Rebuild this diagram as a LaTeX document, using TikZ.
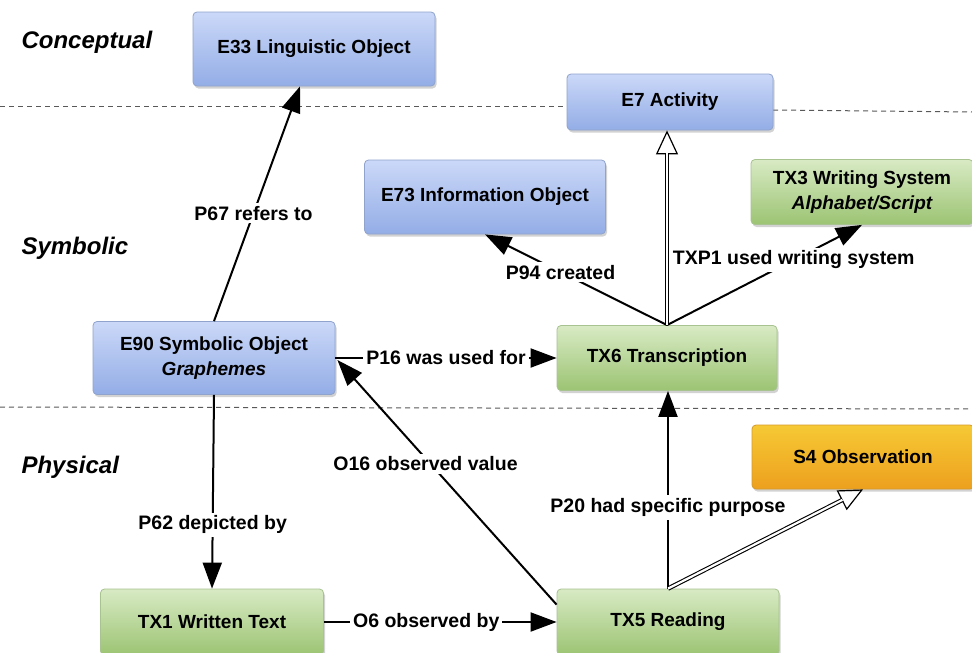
\documentclass[tikz,border=0pt]{standalone}
\usepackage{fontspec}
\setmainfont{Liberation Sans}
\usetikzlibrary{arrows.meta,shadows,calc}
\definecolor{bluetop}{HTML}{CBD8F8}
\definecolor{bluebot}{HTML}{93ADE6}
\definecolor{blueln}{HTML}{8FA3CC}
\definecolor{greentop}{HTML}{D8EAC4}
\definecolor{greenbot}{HTML}{9CC473}
\definecolor{greenln}{HTML}{A8C290}
\definecolor{orangetop}{HTML}{F6C935}
\definecolor{orangebot}{HTML}{EDA01E}
\definecolor{orangeln}{HTML}{D59A2A}
\tikzset{
  box/.style={rounded corners=4pt, line width=0.8pt, align=center,
    font=\fontsize{19}{25}\selectfont\bfseries,
    drop shadow={opacity=0.35, shadow xshift=1.5pt, shadow yshift=-2.5pt}},
  bluebox/.style={box, draw=blueln, top color=bluetop, bottom color=bluebot},
  greenbox/.style={box, draw=greenln, top color=greentop, bottom color=greenbot},
  orangebox/.style={box, draw=orangeln, top color=orangetop, bottom color=orangebot},
  rel/.style={line width=2pt, -{Triangle[length=26pt,width=19pt]}},
  lbl/.style={fill=white, inner sep=3pt, font=\fontsize{19.5}{22}\selectfont\bfseries},
  layer/.style={font=\fontsize{24}{28}\selectfont\bfseries\itshape, anchor=west},
  sep/.style={line width=1pt, black!65, dash pattern=on 5pt off 4pt},
  isaopen/.style={line width=1.2pt, -{Triangle[open,length=24pt,width=22pt]}},
  isadouble/.style={double, double distance=2.2pt, line width=1.1pt, shorten >=23pt}
}
\begin{document}
\begin{tikzpicture}[x=1pt,y=-1pt]
\useasboundingbox (0,0) rectangle (972,653);
\fill[white] (0,0) rectangle (972,653);

% separators
\draw[sep] (0,106) -- (567,106);
\draw[sep] (773,110) -- (972,112);
\draw[sep] (0,407) -- (972,409);

% layer names
\node[layer] (lc) at (18,42) {Conceptual};
\node[layer] (ls) at (18,248) {Symbolic};
\node[layer] (lp) at (18,467) {Physical};

% nodes
\node[bluebox, minimum width=242pt, minimum height=74pt] (e33) at (314,49) {E33 Linguistic Object};
\node[bluebox, minimum width=206pt, minimum height=56pt] (e7) at (670,102) {E7 Activity};
\node[bluebox, minimum width=241pt, minimum height=74pt] (e73) at (485,197) {E73 Information Object};
\node[greenbox, minimum width=222pt, minimum height=65pt] (tx3) at (862,192) {TX3 Writing System\\\itshape Alphabet/Script};
\node[bluebox, minimum width=242pt, minimum height=73pt] (e90) at (214,358) {E90 Symbolic Object\\\itshape Graphemes};
\node[greenbox, minimum width=220pt, minimum height=65pt] (tx6) at (667,358) {TX6 Transcription};
\node[orangebox, minimum width=222pt, minimum height=64pt] (s4) at (863,457) {S4 Observation};
\node[greenbox, minimum width=223pt, minimum height=66pt] (tx1) at (212,622) {TX1 Written Text};
\node[greenbox, minimum width=222pt, minimum height=66pt] (tx5) at (668,622) {TX5 Reading};

% relations
\draw[rel] (e90.north) -- ($(e33.south)+(-14,0)$) node[lbl, pos=0.46] (l67) {P67 refers to};
\draw[rel] (e90.south) -- (tx1.north) node[lbl, pos=0.67] (l62) {P62 depicted by};
\draw[rel] (tx1.east) -- (tx5.west) node[lbl, pos=0.44] (l6) {O6 observed by};
\coordinate (tx5in) at ($(tx5.north west)+(0,16)$);
\draw[rel] (tx5in) -- ($(e90.east)+(2,2)$) node[lbl, pos=0.575, xshift=-5pt] (l16o) {O16 observed value};
\draw[rel] (e90.east) -- (tx6.west) node[lbl, pos=0.5] (l16) {P16 was used for};
\draw[rel] (tx5.north) -- (tx5.north |- tx6.south) node[lbl, pos=0.41] (l20) {P20 had specific purpose};
\draw[rel] (tx6.north) -- (e73.south) node[lbl, pos=0.585] (l94) {P94 created};
\draw[rel] (tx6.north) -- (tx3.south) node[lbl, pos=0.65] (lp1) {TXP1 used writing system};

% is-a (hollow) relations
\draw[isaopen] (tx6.north) -- (tx6.north |- e7.south);
\draw[isadouble] (tx6.north) -- (tx6.north |- e7.south);
\draw[isaopen] (tx5.north) -- (s4.south);
\draw[isadouble] (tx5.north) -- (s4.south);
\end{tikzpicture}
\end{document}
